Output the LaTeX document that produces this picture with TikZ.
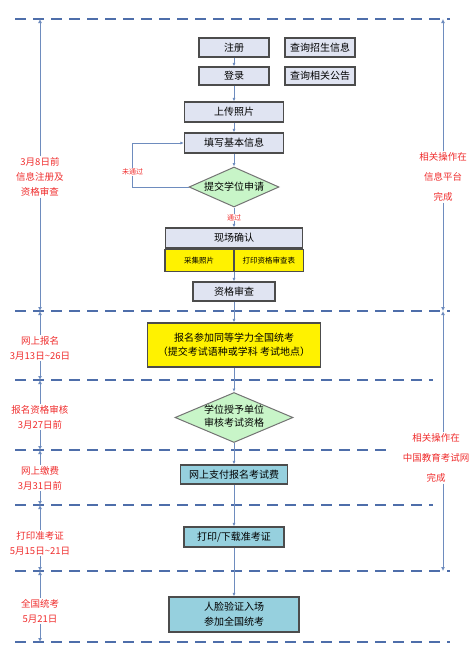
\documentclass[tikz,border=0pt]{standalone}
\usepackage{fontspec}
\setmainfont{Noto Sans CJK SC}
\usetikzlibrary{calc}
\usetikzlibrary{arrows.meta}
\usetikzlibrary{shapes.geometric}

\definecolor{dashblue}{RGB}{78,110,170}
\definecolor{lineblue}{RGB}{110,140,190}
\definecolor{noteRed}{RGB}{240,45,45}
\definecolor{boxgray}{RGB}{224,228,242}
\definecolor{diagreen}{RGB}{200,245,200}
\definecolor{paleteal}{RGB}{150,208,222}

\begin{document}
\begin{tikzpicture} [x=1pt, y=-1pt,
  box/.style={draw=black!70, line width=1.2pt, fill=boxgray, inner sep=0pt, font=\fontsize{10}{12}\selectfont},
  ybox/.style={box, fill=yellow},
  tbox/.style={box, fill=paleteal},
  dia/.style={diamond, aspect=2.4, draw=black!55, line width=1pt, fill=diagreen, inner sep=0pt, font=\fontsize{10}{13}\selectfont},
  sep/.style={dashblue, line width=2.2pt, dash pattern=on 11pt off 7pt},
  flow/.style={lineblue, line width=.8pt, -{Latex[length=3.5pt,width=3pt]}},
  side/.style={lineblue, line width=.8pt, -{Latex[length=4pt,width=4pt]}},
  note/.style={text=noteRed, fill=white, inner sep=1pt, align=center, font=\fontsize{9.5}{15}\selectfont},
  plat/.style={note, font=\fontsize{9.5}{20}\selectfont},
  small/.style={text=noteRed, fill=white, inner sep=.5pt, font=\fontsize{7}{8}\selectfont}]

\useasboundingbox (0,0) rectangle (474,656);

\foreach \y/\e [count=\i] in {19/450, 311/450, 380/433, 450/393, 505/433, 571/450, 642/450} {
  \draw[sep] (15,\y) -- (\e,\y);
  \coordinate (L\i) at (40,\y);
  \coordinate (R\i) at (443,\y);
}

\node[box, minimum width=70, minimum height=19] (zhuce) at (234,47.5) {注册};
\node[box, minimum width=70, minimum height=19] (chaxun) at (320,47.5) {查询招生信息};
\node[box, minimum width=70, minimum height=18] (denglu) at (234,76) {登录};
\node[box, minimum width=70, minimum height=18] (gonggao) at (320,76) {查询相关公告};
\node[box, minimum width=99, minimum height=20] (zhaopian) at (234,112) {上传照片};
\node[box, minimum width=99, minimum height=20] (tianxie) at (234,143) {填写基本信息};
\node[dia, minimum width=90, minimum height=40] (tijiao) at (234,187) {\makebox[0pt]{提交学位申请}};
\node[box, minimum width=137, minimum height=20] (queren) at (234,238) {现场确认};
\node[ybox, minimum width=68.5, minimum height=22, anchor=north east, font=\fontsize{7.5}{9}\selectfont] (caiji) at (queren.south) {采集照片};
\node[ybox, minimum width=68.5, minimum height=22, anchor=north west, font=\fontsize{7.5}{9}\selectfont] (shenchabiao) at (queren.south) {打印资格审查表};
\node[box, minimum width=82, minimum height=19] (zige) at (234,291.5) {资格审查};

\node[ybox, minimum width=173, minimum height=44, align=center, font=\fontsize{10}{14}\selectfont] (baoming) at (234,345) {报名参加同等学力全国统考\\（提交考试语种或学科 考试地点）};
\node[dia, minimum width=118, minimum height=50] (shenhe) at (234,417.5) {\makebox[0pt]{\begin{tabular}{@{}c@{}}学位授予单位\\审核考试资格\end{tabular}}};
\node[tbox, minimum width=107, minimum height=19] (zhifu) at (234,474.5) {网上支付报名考试费};
\node[tbox, minimum width=100, minimum height=20] (zhunkao) at (234,537) {打印/下载准考证};
\node[tbox, minimum width=130, minimum height=35, align=center, font=\fontsize{10}{15}\selectfont] (kaoshi) at (234,614.5) {人脸验证入场\\参加全国统考};

\draw[flow] (zhuce) -- (denglu);
\draw[flow] (denglu) -- (zhaopian);
\draw[flow] (zhaopian) -- (tianxie);
\draw[flow] (tianxie) -- (tijiao);
\draw[flow] (tijiao.west) -- ++(-56,0) |- node[pos=.17, small]{未通过} (tianxie.west);
\draw[flow] (tijiao) -- node[small]{通过} (queren);
\draw[flow] (caiji.south east) -- (zige);
\draw[flow] (zige) -- (baoming);
\draw[flow] (baoming) -- (shenhe);
\draw[flow] (shenhe) -- (zhifu);
\draw[flow] (zhifu) -- (zhunkao);
\draw[flow] (zhunkao) -- (kaoshi);

\node[note] (zhuceqi) at (40,177) {3月8日前\\信息注册及\\资格审查};
\node[note] (baomingqi) at (40,348) {网上报名\\3月13日\textasciitilde26日};
\node[note] (shenheqi) at (40,417) {报名资格审核\\3月27日前};
\node[note] (jiaofeiqi) at (40,478) {网上缴费\\3月31日前};
\node[note] (zhunkaoqi) at (40,543) {打印准考证\\5月15日\textasciitilde21日};
\node[note] (kaoshiqi) at (40,611) {全国统考\\5月21日};

\foreach \n [count=\i, evaluate=\i as \j using int(\i+1)] in {zhuceqi, baomingqi, shenheqi, jiaofeiqi, zhunkaoqi, kaoshiqi} {
  \draw[side] (\n) -- (L\i);
  \draw[side] (\n) -- (L\j);
}

\node[plat] (xinxi) at (443,177) {相关操作在\\信息平台\\完成};
\node[plat] (neea) at (436,458) {相关操作在\\中国教育考试网\\完成};
\draw[side] (xinxi) -- (R1);
\draw[side] (xinxi) -- (R2);
\draw[side] (neea.north -| R2) -- (R2);
\draw[side] (neea.south -| R6) -- (R6);

\end{tikzpicture}
\end{document}
